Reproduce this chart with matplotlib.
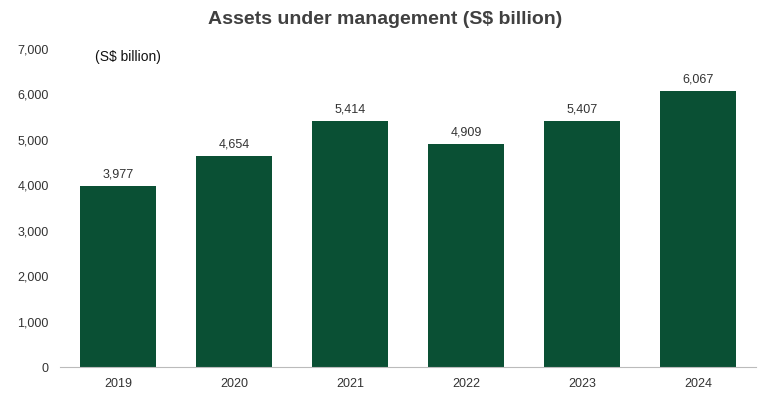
import matplotlib
matplotlib.use("Agg")
import matplotlib.pyplot as plt

years = ["2019", "2020", "2021", "2022", "2023", "2024"]
values = [3977, 4654, 5414, 4909, 5407, 6067]
yticks = [0, 1000, 2000, 3000, 4000, 5000, 6000, 7000]

plt.rcParams['font.family'] = ['Liberation Sans', 'DejaVu Sans']
fig = plt.figure(figsize=(7.7, 4.08), dpi=100)
ax = fig.add_axes([60/770, 1-367/408, 696/770, 318/408])
x = range(len(years))
ax.bar(x, values, width=0.65, color="#0a5034")
for i, v in zip(x, values):
    ax.text(i, v + 120, f"{v:,}", ha="center", va="bottom", fontsize=9, color="#333333")
ax.set_xlim(-0.5, 5.5)
ax.set_ylim(0, 7000)
ax.set_xticks(list(x))
ax.set_xticklabels(years, fontsize=9, color="#333333")
ax.set_yticks(yticks)
ax.set_yticklabels([f"{t:,}" for t in yticks], fontsize=9, color="#333333")
ax.tick_params(length=0, pad=8)
for s in ["top", "right", "left"]:
    ax.spines[s].set_visible(False)
ax.spines["bottom"].set_color("#bbbbbb")
ax.text(95/770, 1-57/408, "(S$ billion)", transform=fig.transFigure, fontsize=10, va="center", color="#111111")
fig.text(0.5, 1-20/408, "Assets under management (S$ billion)", ha="center", va="center",
         fontsize=14, fontweight="bold", color="#404040")
fig.savefig("out.png", dpi=100)
